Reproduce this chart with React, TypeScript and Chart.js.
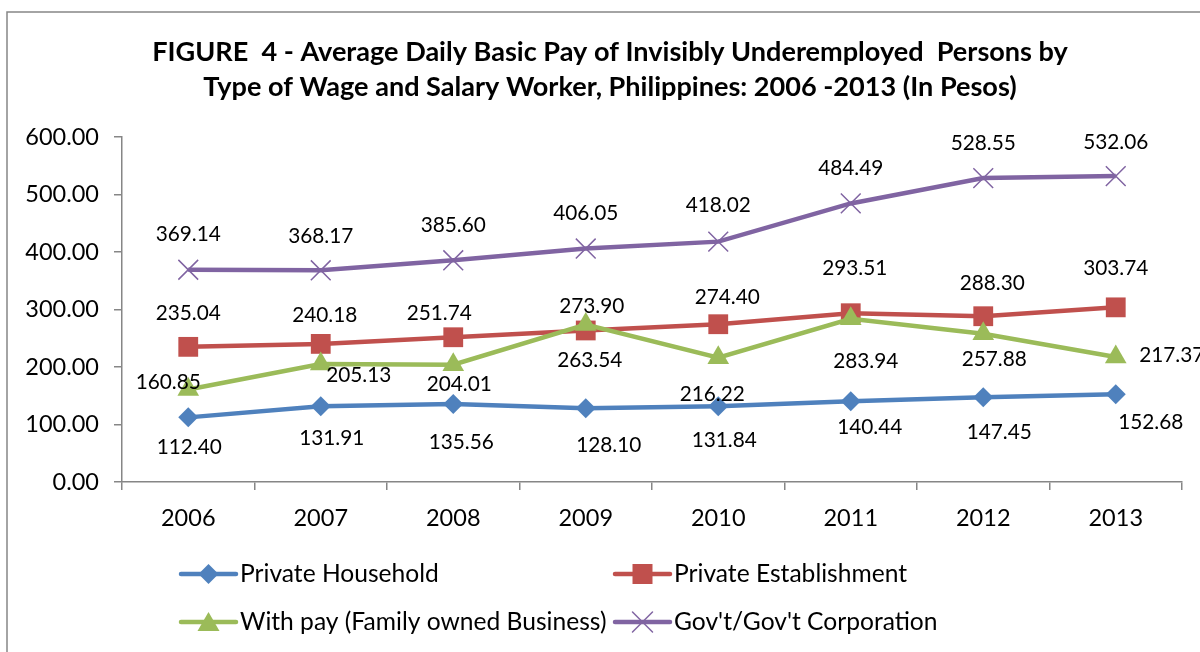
import React, { useEffect, useRef } from 'react';
import { Chart, registerables } from 'chart.js';

Chart.register(...registerables);

// ---------------- data ----------------
const years = ['2006', '2007', '2008', '2009', '2010', '2011', '2012', '2013'];
const privateHousehold = [112.4, 131.91, 135.56, 128.1, 131.84, 140.44, 147.45, 152.68];
const privateEstablishment = [235.04, 240.18, 251.74, 263.54, 274.4, 293.51, 288.3, 303.74];
const withPayFamilyBusiness = [160.85, 205.13, 204.01, 273.9, 216.22, 283.94, 257.88, 217.37];
const govtCorporation = [369.14, 368.17, 385.6, 406.05, 418.02, 484.49, 528.55, 532.06];
const seriesNames = [
  'Private Household',
  'Private Establishment',
  'With pay (Family owned Business)',
  "Gov't/Gov't Corporation",
];
const yMin = 0;
const yMax = 600;
const yStep = 100;
const titleLines = [
  'FIGURE  4 - Average Daily Basic Pay of Invisibly Underemployed  Persons by',
  'Type of Wage and Salary Worker, Philippines: 2006 -2013 (In Pesos)',
];

// ---------------- styles ----------------
const FONT = 'Lato, "Open Sans", sans-serif';
const COLORS = ['#4F81BD', '#C0504D', '#9BBB59', '#8064A2'];
const AXIS = '#868686';
const TICK_FONT = 23.5;
const LABEL_FONT = 20.8;
const LEGEND_FONT = 24.6;

// data-label placement relative to each point (px)
const LABEL_OFFSETS: number[][][] = [
  [[1, 30], [11, 32], [8, 38], [23, 37], [6, 34], [19, 26], [16, 35], [35, 28]],
  [[0, -34], [4, -29], [-14, -24], [4, 30], [9, -27], [4, -45], [9, -33], [0, -39]],
  [[-20, -7], [38, 11], [6, 20], [6, -18], [-6, 37], [15, 43], [11, 26], [56, -2]],
  [[0, -35], [0, -34], [0, -35], [0, -35], [0, -36], [0, -35], [0, -35], [0, -34]],
];

function drawMarker(ctx: CanvasRenderingContext2D, kind: number, x: number, y: number, color: string) {
  ctx.save();
  ctx.fillStyle = color;
  ctx.strokeStyle = color;
  ctx.beginPath();
  if (kind === 0) {
    const r = 10;
    ctx.moveTo(x - r, y);
    ctx.lineTo(x, y - r);
    ctx.lineTo(x + r, y);
    ctx.lineTo(x, y + r);
    ctx.closePath();
    ctx.fill();
  } else if (kind === 1) {
    const s = 10;
    ctx.rect(x - s, y - s, 2 * s, 2 * s);
    ctx.fill();
  } else if (kind === 2) {
    const w = 11;
    ctx.moveTo(x, y - 10);
    ctx.lineTo(x + w, y + 9);
    ctx.lineTo(x - w, y + 9);
    ctx.closePath();
    ctx.fill();
  } else {
    const h = 10;
    ctx.lineWidth = 1.5;
    ctx.moveTo(x - h, y - h);
    ctx.lineTo(x + h, y + h);
    ctx.moveTo(x + h, y - h);
    ctx.lineTo(x - h, y + h);
    ctx.stroke();
  }
  ctx.restore();
}

const decorPlugin = {
  id: 'decor',
  beforeDraw(chart: any) {
    const ctx = chart.ctx as CanvasRenderingContext2D;
    ctx.save();
    ctx.fillStyle = '#ffffff';
    ctx.fillRect(0, 0, chart.width, chart.height);
    ctx.strokeStyle = AXIS;
    ctx.lineWidth = 1.5;
    ctx.strokeRect(7, 12, chart.width + 20, chart.height + 20);
    ctx.restore();
  },
  afterDraw(chart: any) {
    const ctx = chart.ctx as CanvasRenderingContext2D;
    ctx.save();
    // title
    let size = 25;
    ctx.font = `bold ${size}px ${FONT}`;
    const w = ctx.measureText(titleLines[0]).width;
    size = size * (916 / w);
    ctx.font = `bold ${size}px ${FONT}`;
    ctx.fillStyle = '#000';
    ctx.textAlign = 'center';
    ctx.textBaseline = 'alphabetic';
    ctx.fillText(titleLines[0], 610, 61);
    ctx.fillText(titleLines[1], 610, 96);

    // data labels
    ctx.font = `${LABEL_FONT}px ${FONT}`;
    ctx.textBaseline = 'middle';
    ctx.textAlign = 'center';
    chart.data.datasets.forEach((ds: any, di: number) => {
      const meta = chart.getDatasetMeta(di);
      meta.data.forEach((pt: any, i: number) => {
        const off = LABEL_OFFSETS[di][i];
        ctx.fillText(Number(ds.data[i]).toFixed(2), pt.x + off[0], pt.y + off[1]);
      });
    });

    // legend
    const items = [
      { x: 181, y: 574 },
      { x: 615, y: 574 },
      { x: 181, y: 622 },
      { x: 615, y: 622 },
    ];
    ctx.font = `${LEGEND_FONT}px ${FONT}`;
    ctx.textAlign = 'left';
    items.forEach((it, i) => {
      ctx.strokeStyle = COLORS[i];
      ctx.lineWidth = 4.5;
      ctx.lineCap = 'round';
      ctx.beginPath();
      ctx.moveTo(it.x, it.y);
      ctx.lineTo(it.x + 55, it.y);
      ctx.stroke();
      drawMarker(ctx, i, it.x + 27.5, it.y, COLORS[i]);
      ctx.fillStyle = '#000';
      ctx.fillText(seriesNames[i], it.x + 59, it.y);
    });
    ctx.restore();
  },
};

export default function App() {
  const ref = useRef<HTMLCanvasElement | null>(null);
  useEffect(() => {
    document.body.style.margin = '0';
    const canvas = ref.current;
    if (!canvas) return;
    const pointStyles = ['rectRot', 'rect', 'triangle', 'crossRot'];
    const radii = [10, 14, 12.5, 14];
    const series = [privateHousehold, privateEstablishment, withPayFamilyBusiness, govtCorporation];
    const chart = new Chart(canvas, {
      type: 'line',
      data: {
        labels: years,
        datasets: series.map((d, i) => ({
          label: seriesNames[i],
          data: d,
          borderColor: COLORS[i],
          backgroundColor: COLORS[i],
          borderWidth: 4.5,
          pointStyle: pointStyles[i] as any,
          pointRadius: radii[i],
          pointBorderWidth: i === 3 ? 1.5 : 0,
          pointBorderColor: COLORS[i],
          pointBackgroundColor: COLORS[i],
          tension: 0,
          order: 4 - i,
        })),
      },
      options: {
        animation: false,
        responsive: false,
        events: [],
        layout: { padding: { left: 0, right: 18, top: 137, bottom: 110 } },
        plugins: {
          legend: { display: false },
          title: { display: false },
          tooltip: { enabled: false },
        },
        scales: {
          x: {
            type: 'category',
            offset: true,
            border: { color: AXIS, width: 1.5 },
            grid: { offset: true, drawOnChartArea: false, drawTicks: true, tickLength: 8, color: AXIS, lineWidth: 1.5 },
            ticks: { color: '#000', font: { family: FONT, size: TICK_FONT }, padding: 14, maxRotation: 0 },
            afterFit: (s: any) => { s.height = 60; },
          },
          y: {
            min: yMin,
            max: yMax,
            border: { color: AXIS, width: 1.5 },
            grid: { drawOnChartArea: false, drawTicks: true, tickLength: 8, color: AXIS, lineWidth: 1.5 },
            ticks: {
              stepSize: yStep,
              color: '#000',
              font: { family: FONT, size: TICK_FONT },
              padding: 15,
              callback: (v: any) => Number(v).toFixed(2),
            },
            afterFit: (s: any) => { s.width = 122; },
          },
        },
      },
      plugins: [decorPlugin],
    });
    return () => chart.destroy();
  }, []);
  return (
    <div style={{ position: 'absolute', left: 0, top: 0, width: 1200, height: 652 }}>
      <canvas ref={ref} width={1200} height={652} style={{ display: 'block' }} />
    </div>
  );
}
